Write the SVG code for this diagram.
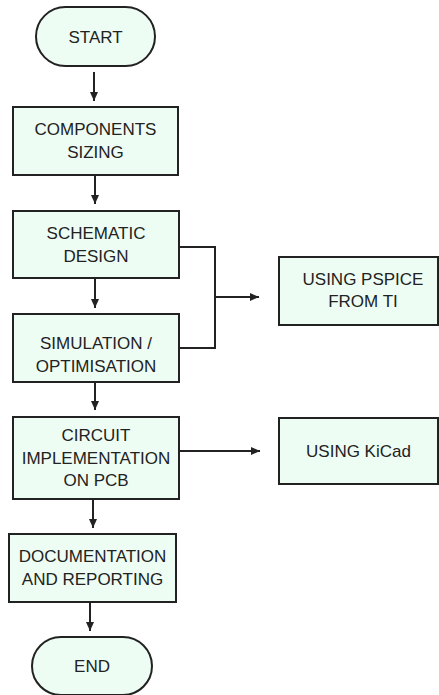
<svg xmlns="http://www.w3.org/2000/svg" width="439" height="695" viewBox="0 0 439 695">
<defs>
<marker id="ah" markerUnits="userSpaceOnUse" markerWidth="10" markerHeight="10" viewBox="0 0 10 10" refX="9" refY="5" orient="auto">
<path d="M0,1 L9,5 L0,9 Z" fill="#222"/>
</marker>
</defs>
<style>
.box{fill:#eefdf3;stroke:#222;stroke-width:2}
.t{font-family:"Liberation Sans",Arial,sans-serif;font-size:17px;fill:#222;text-anchor:middle}
.c{fill:none;stroke:#222;stroke-width:2}
</style>
<rect width="439" height="695" fill="#fff"/>
<g id="start"><rect class="box" x="36" y="7" width="119" height="59" rx="29.5"/><text class="t" x="95.5" y="43">START</text></g>
<g id="sizing"><rect class="box" x="13" y="107" width="165" height="68"/><text class="t" x="95.5" y="135">COMPONENTS</text><text class="t" x="95.5" y="158">SIZING</text></g>
<g id="schematic"><rect class="box" x="13" y="211" width="166" height="67"/><text class="t" x="96" y="239">SCHEMATIC</text><text class="t" x="96" y="262">DESIGN</text></g>
<g id="simulation"><rect class="box" x="13" y="314" width="166" height="68"/><text class="t" x="96" y="349">SIMULATION /</text><text class="t" x="96" y="372">OPTIMISATION</text></g>
<g id="circuit"><rect class="box" x="13" y="417" width="166" height="82"/><text class="t" x="96" y="441">CIRCUIT</text><text class="t" x="96" y="464">IMPLEMENTATION</text><text class="t" x="96" y="486">ON PCB</text></g>
<g id="documentation"><rect class="box" x="9" y="534" width="167" height="68"/><text class="t" x="92.5" y="562">DOCUMENTATION</text><text class="t" x="92.5" y="585">AND REPORTING</text></g>
<g id="end"><rect class="box" x="32" y="637" width="120" height="58" rx="29"/><text class="t" x="92" y="672">END</text></g>
<g id="pspice"><rect class="box" x="279" y="257" width="159" height="68"/><text class="t" x="363" y="285">USING PSPICE</text><text class="t" x="363" y="307">FROM TI</text></g>
<g id="kicad"><rect class="box" x="279" y="418" width="159" height="66"/><text class="t" x="358.5" y="457">USING KiCad</text></g>
<g id="connectors">
<path class="c" d="M94,72 V101" marker-end="url(#ah)"/>
<path class="c" d="M95,175 V204" marker-end="url(#ah)"/>
<path class="c" d="M95,278 V308" marker-end="url(#ah)"/>
<path class="c" d="M95,382 V410" marker-end="url(#ah)"/>
<path class="c" d="M93,499 V528" marker-end="url(#ah)"/>
<path class="c" d="M90,602 V631" marker-end="url(#ah)"/>
<path class="c" d="M179,247 H215 V348 H179"/>
<path class="c" d="M215,297 H259" marker-end="url(#ah)"/>
<path class="c" d="M179,451 H260" marker-end="url(#ah)"/>
</g>
</svg>
